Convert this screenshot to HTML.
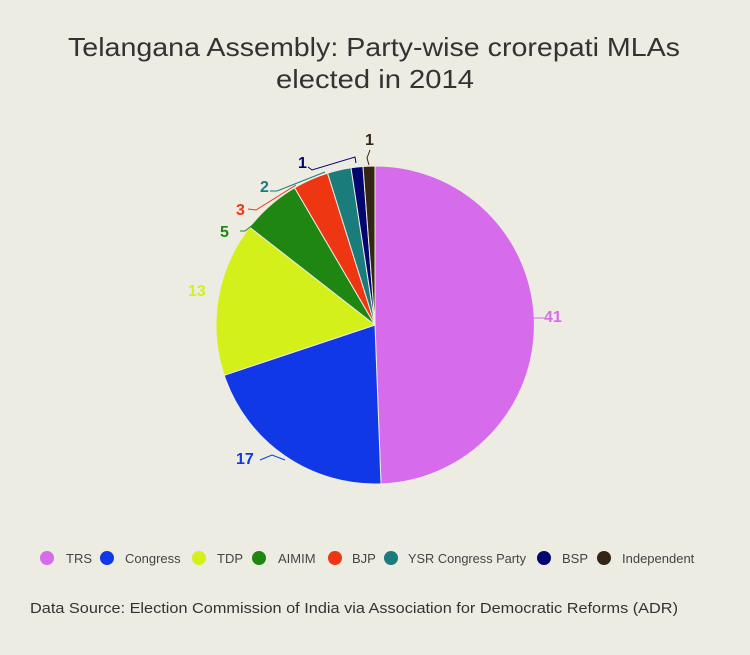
<!DOCTYPE html>
<html><head><style>
body{margin:0;background:#edece2;}
svg text{font-family:"Liberation Sans",sans-serif;}
</style></head><body>
<svg width="750" height="650" xmlns="http://www.w3.org/2000/svg">
<rect width="750" height="650" fill="#edece2"/>
<text x="68" y="56" font-size="26" textLength="612" lengthAdjust="spacingAndGlyphs" fill="#333">Telangana Assembly: Party-wise crorepati MLAs</text>
<text x="276" y="88" font-size="26" textLength="198" lengthAdjust="spacingAndGlyphs" fill="#333">elected in 2014</text>
<g stroke="#edece2" stroke-width="1">
<path d="M375,325 L375,166 A159,159 0 0 1 381,483.9 Z" fill="#d66bec"/>
<path d="M375,325 L381,483.9 A159,159 0 0 1 224.2,375.3 Z" fill="#1038e6"/>
<path d="M375,325 L224.2,375.3 A159,159 0 0 1 249.6,227.2 Z" fill="#d4f01b"/>
<path d="M375,325 L249.6,227.2 A159,159 0 0 1 294.6,187.8 Z" fill="#1f8612"/>
<path d="M375,325 L294.6,187.8 A159,159 0 0 1 327.6,173.2 Z" fill="#ee3613"/>
<path d="M375,325 L327.6,173.2 A159,159 0 0 1 351,167.8 Z" fill="#1b7c7c"/>
<path d="M375,325 L351,167.8 A159,159 0 0 1 363,166.5 Z" fill="#03066e"/>
<path d="M375,325 L363,166.5 A159,159 0 0 1 375,166 Z" fill="#342614"/>
</g>
<g fill="none" stroke-width="1">
<path d="M533,318 L544,318" stroke="#d66bec"/>
<path d="M260,460 L272,455 L285,460" stroke="#1038e6"/>
<path d="M240,231 L245,231 L268,213" stroke="#1f8612"/>
<path d="M248,209 L256,210 L296,185" stroke="#ee3613"/>
<path d="M270,191 L277,191 L325,172" stroke="#1b7c7c"/>
<path d="M308,167 L312,170 L355,157 L356,163" stroke="#03066e"/>
<path d="M370,150 L367,158 L369,165" stroke="#342614"/>
</g>
<g font-size="16" font-weight="bold">
<text x="544" y="322" fill="#d66bec">41</text>
<text x="236" y="464" fill="#1038e6">17</text>
<text x="188" y="296" fill="#d4f01b">13</text>
<text x="220" y="237" fill="#1f8612">5</text>
<text x="236" y="215" fill="#ee3613">3</text>
<text x="260" y="192" fill="#1b7c7c">2</text>
<text x="298" y="168" fill="#03066e">1</text>
<text x="365" y="145" fill="#342614">1</text>
</g>
<g font-size="13" fill="#444">
<circle cx="47" cy="558" r="7" fill="#d66bec"/><text x="66" y="563">TRS</text>
<circle cx="107" cy="558" r="7" fill="#1038e6"/><text x="125" y="563">Congress</text>
<circle cx="199" cy="558" r="7" fill="#d4f01b"/><text x="217" y="563">TDP</text>
<circle cx="259" cy="558" r="7" fill="#1f8612"/><text x="278" y="563">AIMIM</text>
<circle cx="335" cy="558" r="7" fill="#ee3613"/><text x="352" y="563">BJP</text>
<circle cx="391" cy="558" r="7" fill="#1b7c7c"/><text x="408" y="563" textLength="118" lengthAdjust="spacingAndGlyphs">YSR Congress Party</text>
<circle cx="544" cy="558" r="7" fill="#03066e"/><text x="562" y="563">BSP</text>
<circle cx="604" cy="558" r="7" fill="#342614"/><text x="622" y="563">Independent</text>
</g>
<text x="30" y="613" font-size="15" textLength="648" lengthAdjust="spacingAndGlyphs" fill="#333">Data Source: Election Commission of India via Association for Democratic Reforms (ADR)</text>
</svg>
</body></html>
